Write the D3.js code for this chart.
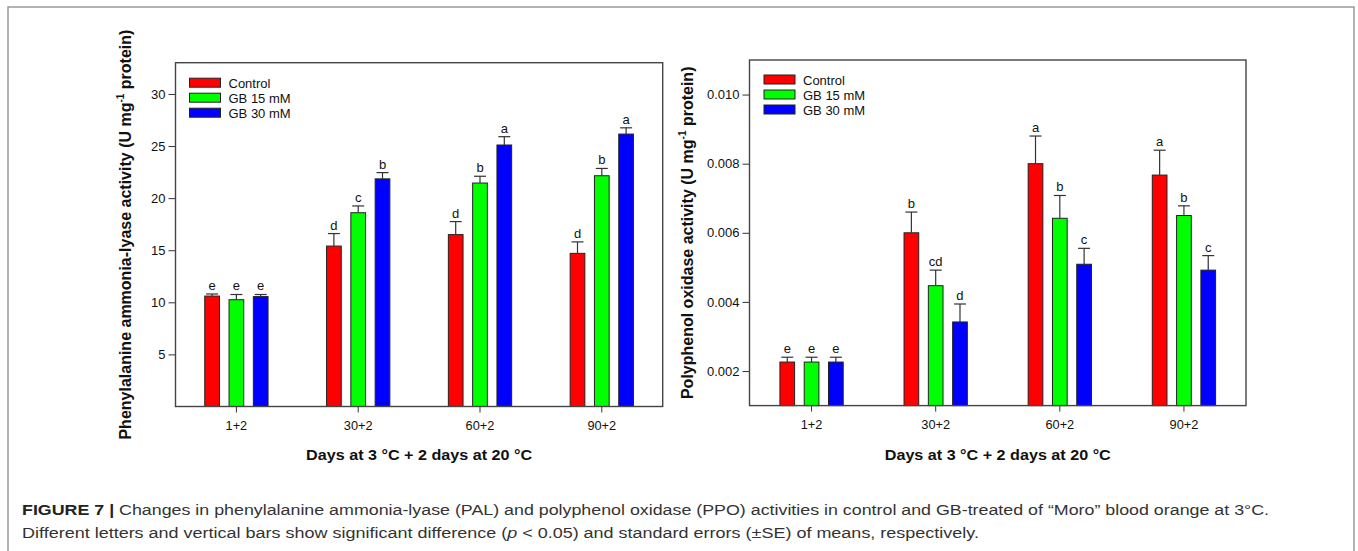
<!DOCTYPE html>
<html>
<head>
<meta charset="utf-8">
<script src="https://cdn.jsdelivr.net/npm/d3@7"></script>
<style>
  body { margin: 0; background: #fff; }
  svg { display: block; font-family: "Liberation Sans", Arial, sans-serif; }
</style>
</head>
<body>
<div id="my_dataviz"></div>
<script>
// data
var days = ["1+2", "30+2", "60+2", "90+2"];
var treatments = ["Control", "GB 15 mM", "GB 30 mM"];
var colors = ["#ff0000", "#00ff00", "#0000ff"];

// PAL (U mg-1 protein)
var palControl = [10.6, 15.4, 16.5, 14.7];
var palGB15    = [10.25, 18.6, 21.45, 22.15];
var palGB30    = [10.55, 21.85, 25.1, 26.15];
var palSeControl = [0.2, 1.2, 1.25, 1.1];
var palSeGB15    = [0.5, 0.65, 0.65, 0.7];
var palSeGB30    = [0.2, 0.6, 0.8, 0.6];
var palLetters = [["e", "d", "d", "d"], ["e", "c", "b", "b"], ["e", "b", "a", "a"]];

// PPO (U mg-1 protein)
var ppoControl = [0.00226, 0.0060, 0.0080, 0.00767];
var ppoGB15    = [0.00226, 0.00447, 0.00642, 0.0065];
var ppoGB30    = [0.00226, 0.00342, 0.00509, 0.00492];
var ppoSeControl = [0.00014, 0.0006, 0.0008, 0.00072];
var ppoSeGB15    = [0.00014, 0.00045, 0.00066, 0.00028];
var ppoSeGB30    = [0.00014, 0.00052, 0.00046, 0.00042];
var ppoLetters = [["e", "b", "a", "a"], ["e", "cd", "b", "b"], ["e", "d", "c", "c"]];

var W = 1358, H = 551;

var svg = d3.select("#my_dataviz")
  .append("svg")
    .attr("width", W)
    .attr("height", H);

// outer figure border
svg.append("rect")
  .attr("x", 8).attr("y", 7)
  .attr("width", 1346).attr("height", 560)
  .attr("fill", "none")
  .attr("stroke", "#8a8a8a")
  .attr("stroke-width", 1.3);

function makeRows(vals, ses, letters) {
  var rows = [];
  for (let i = 0; i < days.length; i++) {
    for (let j = 0; j < treatments.length; j++) {
      rows.push({day: days[i], t: treatments[j], j: j,
                 v: vals[j][i], se: ses[j][i], letter: letters[j][i]});
    }
  }
  return rows;
}

function drawPanel(opt) {
  var g = svg.append("g")
    .attr("transform", "translate(" + opt.left + "," + opt.top + ")");
  var width = opt.width, height = opt.height;

  var x0 = d3.scaleBand().domain(days).range([0, width]).padding(0);
  var x1 = d3.scaleBand().domain(treatments).range([-36.45, 36.45])
    .paddingInner(0.395).paddingOuter(0.1975);
  var y = d3.scaleLinear().domain(opt.domain).range([height, 0]);

  var rows = makeRows(opt.vals, opt.ses, opt.letters);

  // bars
  g.selectAll("rect.bar")
    .data(rows)
    .enter()
    .append("rect")
      .attr("class", "bar")
      .attr("x", function(d) { return x0(d.day) + x0.bandwidth() / 2 + x1(d.t); })
      .attr("y", function(d) { return y(d.v); })
      .attr("width", x1.bandwidth())
      .attr("height", function(d) { return height - y(d.v); })
      .style("fill", function(d) { return colors[d.j]; })
      .style("stroke", "#222")
      .style("stroke-width", 1);

  // upper error whiskers
  var cx = function(d) { return x0(d.day) + x0.bandwidth() / 2 + x1(d.t) + x1.bandwidth() / 2; };
  g.selectAll("line.err")
    .data(rows)
    .enter()
    .append("line")
      .attr("x1", cx).attr("x2", cx)
      .attr("y1", function(d) { return y(d.v); })
      .attr("y2", function(d) { return y(d.v + d.se); })
      .style("stroke", "#333").style("stroke-width", 1.2);
  g.selectAll("line.cap")
    .data(rows)
    .enter()
    .append("line")
      .attr("x1", function(d) { return cx(d) - 6; })
      .attr("x2", function(d) { return cx(d) + 6; })
      .attr("y1", function(d) { return y(d.v + d.se); })
      .attr("y2", function(d) { return y(d.v + d.se); })
      .style("stroke", "#333").style("stroke-width", 1.2);

  // significance letters
  g.selectAll("text.letter")
    .data(rows)
    .enter()
    .append("text")
      .attr("x", cx)
      .attr("y", function(d) { return y(d.v + d.se) - 4; })
      .attr("text-anchor", "middle")
      .style("font-size", "13px")
      .style("fill", "#111")
      .text(function(d) { return d.letter; });

  // axes
  var yAxis = g.append("g")
    .call(d3.axisLeft(y).tickValues(opt.ticks).tickFormat(opt.fmt).tickSize(7).tickSizeOuter(0));
  yAxis.select(".domain").remove();
  yAxis.selectAll("line").style("stroke", "#333");
  yAxis.selectAll("text").style("font-size", "13px").style("fill", "#111").attr("x", -10);

  var xAxis = g.append("g")
    .attr("transform", "translate(0," + height + ")")
    .call(d3.axisBottom(x0).tickSize(6).tickSizeOuter(0));
  xAxis.select(".domain").remove();
  xAxis.selectAll("line").style("stroke", "#333");
  xAxis.selectAll("text").style("font-size", "13px").style("fill", "#111").attr("y", 14)
    .attr("textLength", function(d) { return d.length * 7.2; })
    .attr("lengthAdjust", "spacingAndGlyphs");

  // frame
  g.append("rect")
    .attr("width", width).attr("height", height)
    .attr("fill", "none")
    .attr("stroke", "#444")
    .attr("stroke-width", 1.4);

  // legend
  var lg = g.append("g")
    .attr("transform", "translate(" + opt.legX + "," + opt.legY + ")");
  treatments.forEach(function(t, j) {
    lg.append("rect")
      .attr("x", 0).attr("y", j * 15)
      .attr("width", 31).attr("height", 9)
      .style("fill", colors[j]).style("stroke", "#222").style("stroke-width", 1);
    lg.append("text")
      .attr("x", 39).attr("y", j * 15 + 9.5)
      .style("font-size", "13px").style("fill", "#111")
      .text(t);
  });

  // y axis title
  var yt = g.append("text")
    .attr("transform", "translate(" + opt.yTitleX + "," + (height / 2) + ") rotate(-90)")
    .attr("text-anchor", "middle")
    .style("font-size", opt.yTitleSize)
    .style("font-weight", "bold")
    .style("fill", "#111");
  yt.append("tspan").text(opt.yTitle + " (U mg");
  yt.append("tspan").attr("dy", -7).style("font-size", "10px").text("-1");
  yt.append("tspan").attr("dy", 7).text(" protein)");

  // x axis title
  g.append("text")
    .attr("x", width / 2)
    .attr("y", height + 54)
    .attr("text-anchor", "middle")
    .attr("textLength", 226)
    .attr("lengthAdjust", "spacingAndGlyphs")
    .style("font-size", "15.5px")
    .style("font-weight", "bold")
    .style("fill", "#111")
    .text("Days at 3 °C + 2 days at 20 °C");
}

drawPanel({
  left: 175.5, top: 62.7, width: 487.2, height: 343.8,
  domain: [0, 33], ticks: [5, 10, 15, 20, 25, 30], fmt: d3.format("d"),
  vals: [palControl, palGB15, palGB30],
  ses: [palSeControl, palSeGB15, palSeGB30],
  letters: palLetters,
  legX: 14, legY: 15.5,
  yTitle: "Phenylalanine ammonia-lyase activity", yTitleX: -45, yTitleSize: "16px"
});

drawPanel({
  left: 749.5, top: 60, width: 496.5, height: 345.6,
  domain: [0.001, 0.011], ticks: [0.002, 0.004, 0.006, 0.008, 0.010], fmt: d3.format(".3f"),
  vals: [ppoControl, ppoGB15, ppoGB30],
  ses: [ppoSeControl, ppoSeGB15, ppoSeGB30],
  letters: ppoLetters,
  legX: 14.5, legY: 15,
  yTitle: "Polyphenol oxidase activity", yTitleX: -57, yTitleSize: "16px"
});

// caption
var cap1 = svg.append("text")
  .attr("x", 22).attr("y", 515)
  .attr("textLength", 1247)
  .attr("lengthAdjust", "spacingAndGlyphs")
  .style("font-size", "15.5px")
  .style("fill", "#333");
cap1.append("tspan").style("font-weight", "bold").style("fill", "#222").text("FIGURE 7 | ");
cap1.append("tspan").text("Changes in phenylalanine ammonia-lyase (PAL) and polyphenol oxidase (PPO) activities in control and GB-treated of \u201cMoro\u201d blood orange at 3\u00b0C.");

var cap2 = svg.append("text")
  .attr("x", 22).attr("y", 538)
  .attr("textLength", 957)
  .attr("lengthAdjust", "spacingAndGlyphs")
  .style("font-size", "15.5px")
  .style("fill", "#333");
cap2.append("tspan").text("Different letters and vertical bars show significant difference (");
cap2.append("tspan").style("font-style", "italic").text("p");
cap2.append("tspan").text(" < 0.05) and standard errors (\u00b1SE) of means, respectively.");
</script>
</body>
</html>
